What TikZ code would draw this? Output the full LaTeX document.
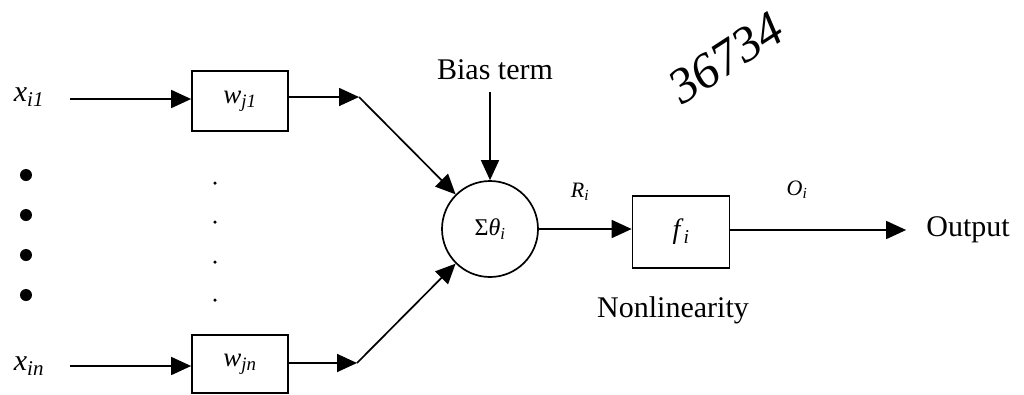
\documentclass[tikz,border=0pt]{standalone}
\usepackage{fontspec}
\setmainfont{Liberation Serif}[ItalicFont={Liberation Serif Italic}]
\usetikzlibrary{arrows.meta}
\tikzset{
  wire/.style={line width=1.7pt,-{Triangle[length=20pt,width=18pt]}},
  blockbox/.style={draw,line width=1.7pt,inner sep=0pt},
  lbl/.style={inner sep=0pt,font=\fontsize{30}{34}\selectfont},
  smalllbl/.style={inner sep=0pt,font=\fontsize{22}{26}\selectfont\itshape},
}
\begin{document}
\begin{tikzpicture}[x=1pt,y=-1pt]
\useasboundingbox (0,0) rectangle (1024,394);
% inputs
\node[lbl] (x1) at (29,97) {\textit{x}\textsubscript{\textit{i1}}};
\node[lbl] (xn) at (29,366) {\textit{x}\textsubscript{\textit{in}}};
\coordinate (a1) at (70,99);
\coordinate (an) at (70,366);
% weight boxes
\node[blockbox,minimum width=96pt,minimum height=60pt,font=\fontsize{27}{30}\selectfont] (w1) at (240,101) {\textit{w}\textsubscript{\textit{j1}}};
\node[blockbox,minimum width=96pt,minimum height=58pt,font=\fontsize{27}{30}\selectfont] (wn) at (240,364) {\textit{w}\textsubscript{\textit{jn}}};
\coordinate (j1) at (359,97);
\coordinate (jn) at (357,363);
% summation
\node[draw,circle,line width=1.7pt,minimum size=96pt,inner sep=0pt,font=\fontsize{24}{28}\selectfont] (sum) at (490,229) {Σ\textit{θ}\textsubscript{\textit{i}}};
\node[lbl] (bias) at (495,70) {Bias term};
% nonlinearity
\node[blockbox,minimum width=97pt,minimum height=72pt,font=\fontsize{28}{32}\selectfont] (f) at (681,232) {\textit{f}\textsubscript{\textit{i}}};
\node[lbl] (nonlin) at (673,310) {Nonlinearity};
\node[lbl] (out) at (968,230) {Output};
\node[smalllbl] (R) at (580,192) {R\textsubscript{i}};
\node[smalllbl] (O) at (797,190) {O\textsubscript{i}};
% dots
\foreach \y [count=\k] in {175,215,255,295} {
  \node[circle,fill,minimum size=12pt,inner sep=0pt] (bd\k) at (26,\y) {};
}
\foreach \y [count=\k] in {183,222,262,300} {
  \node[circle,fill,minimum size=3.5pt,inner sep=0pt] (sd\k) at (215,\y) {};
}
% handwritten note
\node[inner sep=0pt,rotate=33,font=\fontsize{50}{54}\selectfont\itshape] (note) at (726,58) {36734};
% connectors
\draw[wire] (a1) -- (w1.west |- a1);
\draw[wire] (an) -- (wn.west |- an);
\draw[wire] (w1.east |- j1) -- (j1);
\draw[wire] (wn.east |- jn) -- (jn);
\draw[wire] (j1) -- (sum);
\draw[wire] (jn) -- (sum);
\draw[wire] (bias.south -| sum.north) ++(0,12) -- (sum.north);
\draw[wire] (sum.east) -- (f.west |- sum.east);
\draw[wire,shorten >=20pt] (f.east |- out.west) -- (out.west);
\end{tikzpicture}
\end{document}
